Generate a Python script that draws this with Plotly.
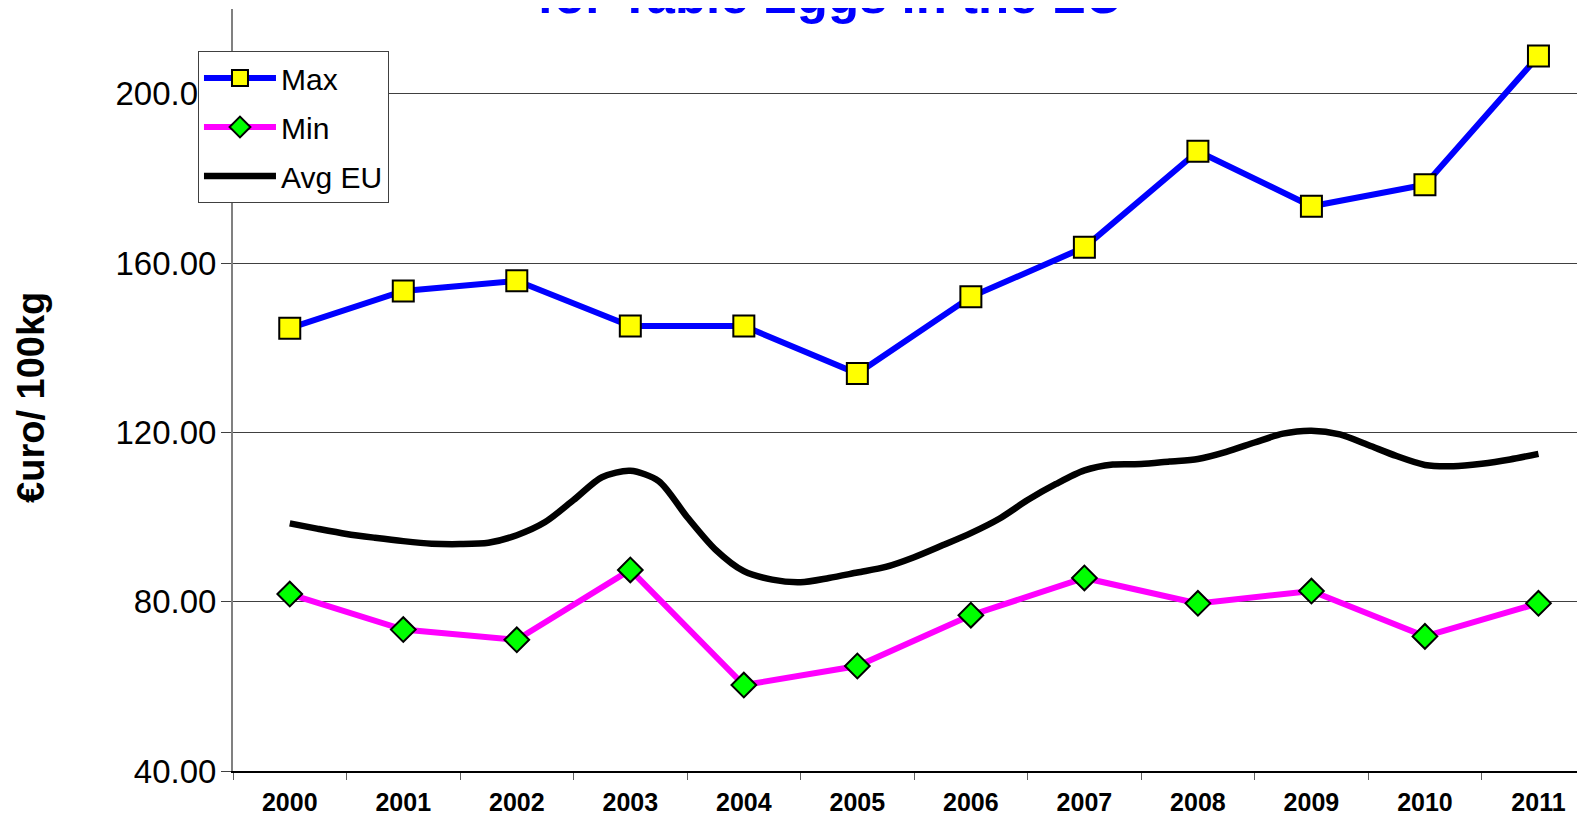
import plotly.graph_objects as go

years = list(range(2000, 2012))
year_labels = [str(y) for y in years]

max_price = [144.6, 153.4, 155.8, 145.1, 145.1, 133.9, 152.0, 163.7, 186.4, 173.4, 178.5, 208.9]
min_price = [81.8, 73.4, 71.0, 87.5, 60.3, 64.8, 76.8, 85.6, 79.6, 82.5, 71.8, 79.6]

# EU average
avg_x = [2000.00, 2000.25, 2000.50, 2000.75, 2001.00, 2001.25, 2001.50, 2001.75,
         2002.00, 2002.25, 2002.50, 2002.75, 2003.00, 2003.25, 2003.50, 2003.75,
         2004.00, 2004.25, 2004.50, 2004.75, 2005.00, 2005.25, 2005.50, 2005.75,
         2006.00, 2006.25, 2006.50, 2006.75, 2007.00, 2007.25, 2007.50, 2007.75,
         2008.00, 2008.25, 2008.50, 2008.75, 2009.00, 2009.25, 2009.50, 2009.75,
         2010.00, 2010.25, 2010.50, 2010.75, 2011.00]
avg_eu = [98.5, 97.2, 96.0, 95.1, 94.3, 93.7, 93.6, 93.9,
          95.7, 98.8, 104.0, 109.4, 110.9, 108.5, 100.0, 92.3,
          87.2, 85.2, 84.6, 85.6, 86.9, 88.2, 90.5, 93.3,
          96.2, 99.6, 104.0, 107.8, 111.0, 112.4, 112.5, 113.1,
          113.7, 115.4, 117.6, 119.7, 120.4, 119.5, 117.0, 114.4,
          112.3, 112.0, 112.6, 113.6, 114.9]

y_ticks = [40, 80, 120, 160, 200]

FONT = "Liberation Sans, Arial, sans-serif"

fig = go.Figure()
fig.add_trace(go.Scatter(
    x=years, y=max_price, name="Max", mode="lines+markers", legendgroup="a",
    line=dict(color="#0000FF", width=6),
    marker=dict(symbol="square", size=21, color="#FFFF00", line=dict(color="black", width=2)),
))
fig.add_trace(go.Scatter(
    x=years, y=min_price, name="Min", mode="lines+markers", legendgroup="b",
    line=dict(color="#FF00FF", width=6),
    marker=dict(symbol="diamond", size=19, color="#00FF00", line=dict(color="black", width=2)),
))
fig.add_trace(go.Scatter(
    x=avg_x, y=avg_eu, name="Avg EU", mode="lines", legendgroup="c",
    line=dict(color="black", width=6.5, shape="spline", smoothing=0.8),
))

boundaries = [y - 0.5 for y in years] + [years[-1] + 0.5]

# page body has an 8px margin, so the figure is sized to fill the rest
fig.update_layout(
    width=1577, height=810,
    margin=dict(l=225, r=0, t=1, b=47, autoexpand=False),
    paper_bgcolor="white", plot_bgcolor="white",
    font=dict(family=FONT, color="black"),
    showlegend=True,
    legend=dict(
        x=-0.0259, y=0.9449, xanchor="left", yanchor="top",
        bgcolor="white", bordercolor="#404040", borderwidth=1,
        font=dict(size=30, family=FONT, color="black"),
        tracegroupgap=7, itemwidth=72,
    ),
    xaxis=dict(
        range=[1999.5, 2011.41], tickmode="array", tickvals=years, ticktext=year_labels,
        ticks="", showgrid=False, zeroline=False, automargin=False,
        showline=True, linecolor="black", linewidth=2,
        tickfont=dict(size=25, family=FONT, color="black", weight="bold"),
        ticklabelstandoff=8,
        minor=dict(ticks="outside", tickmode="array", tickvals=boundaries,
                   ticklen=7, tickcolor="#606060", tickwidth=1, showgrid=False),
    ),
    yaxis=dict(
        range=[40, 220], tickmode="array", tickvals=y_ticks, tickformat=".2f",
        ticks="outside", ticklen=10, tickcolor="#404040", automargin=False,
        showgrid=True, gridcolor="#404040", gridwidth=1, zeroline=False,
        showline=True, linecolor="#808080", linewidth=2,
        tickfont=dict(size=33, family=FONT, color="black"),
        ticklabelstandoff=-2,
    ),
    annotations=[
        dict(text="for Table Eggs in the EU", xref="paper", yref="paper",
             x=0.4412, y=0.9783, xanchor="center", yanchor="bottom", showarrow=False,
             font=dict(size=51, family=FONT, color="#0000FF", weight="bold")),
        dict(text="€uro/ 100kg", xref="paper", yref="paper",
             x=-0.1495, y=0.4908, xanchor="center", yanchor="middle", showarrow=False,
             textangle=-90,
             font=dict(size=38, family=FONT, color="black", weight="bold")),
    ],
)

fig.write_html("out.html")
